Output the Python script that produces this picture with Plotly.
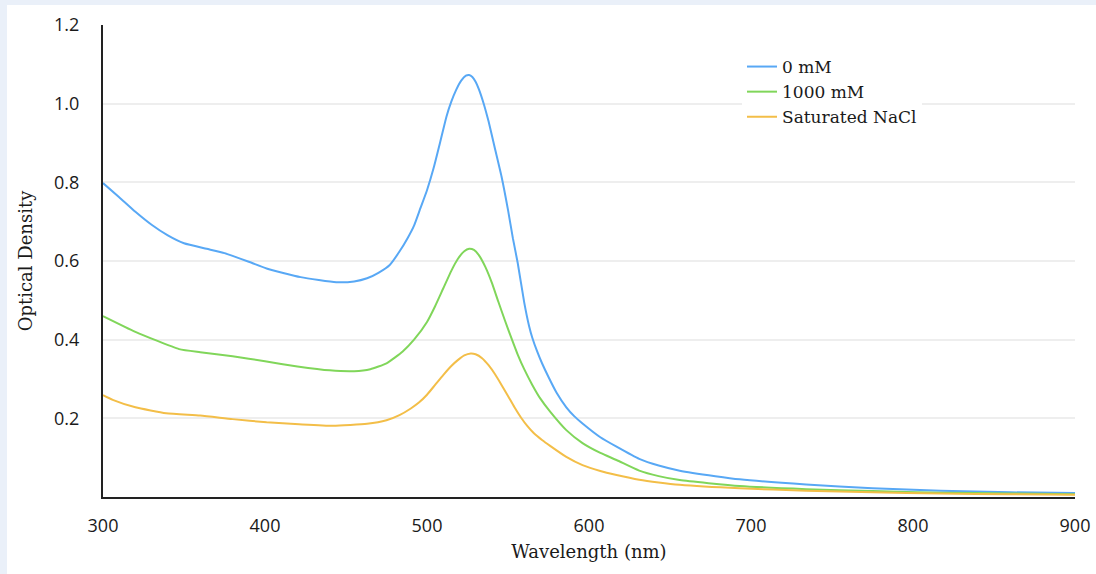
import plotly.graph_objects as go

# Wavelength (nm) sample points per series, and optical density values
wl_0 = [300, 310, 320, 330, 340, 350, 364, 375, 380, 390, 401, 422, 444, 455, 463, 470, 477, 483, 488, 492, 496, 500, 504, 508, 512, 515, 518, 521, 524, 526, 528, 530, 532, 535, 538, 542, 546, 550, 553, 556, 560, 563, 565, 568, 571, 575, 580, 586, 591, 596, 607, 617, 631, 643, 656, 678, 693, 734, 775, 817, 860, 900]
od_0 = [0.798, 0.762, 0.725, 0.692, 0.665, 0.645, 0.631, 0.620, 0.613, 0.598, 0.581, 0.559, 0.546, 0.548, 0.556, 0.570, 0.590, 0.624, 0.658, 0.690, 0.735, 0.780, 0.835, 0.900, 0.967, 1.005, 1.035, 1.058, 1.071, 1.073, 1.068, 1.056, 1.037, 1.000, 0.955, 0.885, 0.815, 0.730, 0.658, 0.595, 0.495, 0.435, 0.405, 0.370, 0.340, 0.305, 0.265, 0.228, 0.205, 0.187, 0.152, 0.128, 0.097, 0.080, 0.067, 0.053, 0.045, 0.032, 0.022, 0.016, 0.012, 0.010]

wl_1000 = [300, 320, 347, 360, 380, 400, 420, 440, 455, 465, 475, 485, 492, 500, 505, 510, 515, 519, 523, 526, 529, 532, 536, 540, 544, 548, 552, 556, 560, 565, 570, 576, 586, 596, 607, 617, 631, 643, 656, 693, 734, 775, 817, 860, 900]
od_1000 = [0.460, 0.420, 0.376, 0.368, 0.358, 0.345, 0.332, 0.322, 0.320, 0.325, 0.340, 0.370, 0.400, 0.445, 0.485, 0.530, 0.575, 0.605, 0.625, 0.631, 0.628, 0.615, 0.585, 0.545, 0.497, 0.450, 0.405, 0.362, 0.325, 0.285, 0.250, 0.217, 0.170, 0.137, 0.112, 0.094, 0.067, 0.053, 0.043, 0.028, 0.020, 0.015, 0.011, 0.009, 0.007]

wl_sat = [300, 306, 320, 339, 360, 380, 401, 421, 442, 463, 475, 483, 490, 495, 500, 505, 510, 515, 519, 523, 527, 530, 534, 538, 542, 546, 550, 554, 558, 562, 566, 571, 576, 586, 596, 607, 617, 631, 643, 656, 693, 734, 775, 817, 860, 900]
od_sat = [0.259, 0.247, 0.228, 0.213, 0.207, 0.198, 0.190, 0.185, 0.181, 0.186, 0.195, 0.208, 0.225, 0.240, 0.260, 0.285, 0.310, 0.333, 0.348, 0.360, 0.365, 0.363, 0.353, 0.335, 0.312, 0.285, 0.257, 0.228, 0.202, 0.180, 0.162, 0.145, 0.130, 0.102, 0.081, 0.066, 0.056, 0.044, 0.037, 0.031, 0.022, 0.016, 0.012, 0.009, 0.007, 0.006]

series_names = ["0 mM", "1000 mM", "Saturated NaCl"]
series_colors = ["#58A8F5", "#80D65A", "#F3BE48"]
x_ticks = [300, 400, 500, 600, 700, 800, 900]
y_ticks = [0.2, 0.4, 0.6, 0.8, 1.0, 1.2]

fig = go.Figure()
for name, xs, ys, col in zip(series_names, [wl_0, wl_1000, wl_sat], [od_0, od_1000, od_sat], series_colors):
    fig.add_trace(go.Scatter(x=xs, y=ys, mode="lines", name=name,
                             line=dict(color=col, width=2, shape="spline", smoothing=0.5)))

serif = "DejaVu Serif"
sans = "Open Sans"

# plot domain in pixels: x 103..1075, y 25..497
L, R, T, B = 103, 21, 25, 77
W, H = 1096, 574
pw, ph = W - L - R, H - T - B

def px_to_paper_x(px):
    return (px - L) / pw

def px_to_paper_y(py):
    return (H - B - py) / ph

fig.update_layout(
    width=W, height=H,
    margin=dict(l=L, r=R, t=T, b=B, autoexpand=False),
    paper_bgcolor="#EAF0F9",
    plot_bgcolor="white",
    showlegend=True,
    legend=dict(x=px_to_paper_x(742), y=px_to_paper_y(49), xanchor="left", yanchor="top",
                bgcolor="white", font=dict(family=serif, size=17, color="#1a1a1a"),
                itemwidth=30, tracegroupgap=0),
    shapes=[dict(type="rect", xref="paper", yref="paper", layer="below",
                 x0=px_to_paper_x(7), x1=px_to_paper_x(W + 5),
                 y0=px_to_paper_y(H + 5), y1=px_to_paper_y(5),
                 fillcolor="white", line=dict(width=0))],
    xaxis=dict(range=[300, 900], tickvals=x_ticks, showgrid=False, zeroline=False,
               showline=True, linecolor="#222222", linewidth=2, ticks="",
               ticklabelstandoff=11, automargin=False,
               tickfont=dict(family=sans, size=18, color="#1a1a1a"),
               title=dict(text="Wavelength (nm)", font=dict(family=serif, size=18, color="#1a1a1a"), standoff=10)),
    yaxis=dict(range=[0, 1.2], tickvals=y_ticks, tickformat=".1f", showgrid=True,
               gridcolor="#EEEEEE", gridwidth=2, zeroline=False,
               showline=True, linecolor="#222222", linewidth=2, ticks="",
               ticklabelstandoff=18, automargin=False,
               tickfont=dict(family=sans, size=18, color="#1a1a1a"),
               title=dict(text="Optical Density", font=dict(family=serif, size=18, color="#1a1a1a"), standoff=17)),
)

fig.write_html("out.html", config={"displayModeBar": False},
               post_script="document.body.style.margin='0';document.body.style.background='#EAF0F9';")
